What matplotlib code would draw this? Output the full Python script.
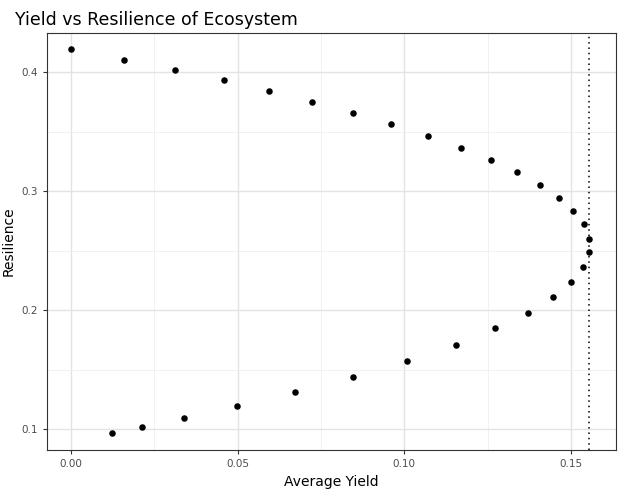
import matplotlib.pyplot as plt

avg_yield = [0.0, 0.0159, 0.0312, 0.0459, 0.0594, 0.0723, 0.0846, 0.0960, 0.1071,
             0.1170, 0.1260, 0.1338, 0.1407, 0.1464, 0.1506, 0.1539, 0.1554, 0.1554,
             0.1536, 0.1500, 0.1446, 0.1371, 0.1272, 0.1155, 0.1008, 0.0846, 0.0672,
             0.0498, 0.0339, 0.0213, 0.0123]
resilience = [0.419, 0.410, 0.4017, 0.393, 0.384, 0.375, 0.3655, 0.356, 0.346,
              0.336, 0.326, 0.316, 0.305, 0.294, 0.283, 0.272, 0.260, 0.2487,
              0.236, 0.2235, 0.211, 0.1975, 0.185, 0.1706, 0.157, 0.1437, 0.131,
              0.119, 0.1092, 0.1017, 0.0967]
max_yield = 0.1554

fig = plt.figure(figsize=(6.22, 4.94), dpi=100)
ax = fig.add_axes([47 / 622, 44 / 494, 569 / 622, 417 / 494])
ax.scatter(avg_yield, resilience, s=22, color="black", zorder=3, linewidths=0)
ax.axvline(max_yield, color="black", linestyle=(0, (1, 2.5)), linewidth=1.1, zorder=2)

ax.set_xlim(-0.0072, 0.1635)
ax.set_ylim(0.0824, 0.4328)
ax.set_xticks([0.0, 0.05, 0.10, 0.15])
ax.set_xticklabels(["0.00", "0.05", "0.10", "0.15"])
ax.set_yticks([0.1, 0.2, 0.3, 0.4])
ax.set_xticks([0.025, 0.075, 0.125], minor=True)
ax.set_yticks([0.15, 0.25, 0.35], minor=True)
ax.grid(True, which="major", color="#e3e3e3", linewidth=1.0)
ax.grid(True, which="minor", color="#efefef", linewidth=0.6)
ax.set_axisbelow(True)
ax.tick_params(which="minor", length=0)
ax.tick_params(which="major", length=3, color="#333333", labelsize=7.5, labelcolor="#4d4d4d")
for s in ax.spines.values():
    s.set_color("#333333")
    s.set_linewidth(0.8)

ax.set_xlabel("Average Yield", fontsize=10)
ax.set_ylabel("Resilience", fontsize=10)
ax.set_title("Yield vs Resilience of Ecosystem", fontsize=12.5, loc="left", x=-0.057)

fig.savefig("out.png", dpi=100)
